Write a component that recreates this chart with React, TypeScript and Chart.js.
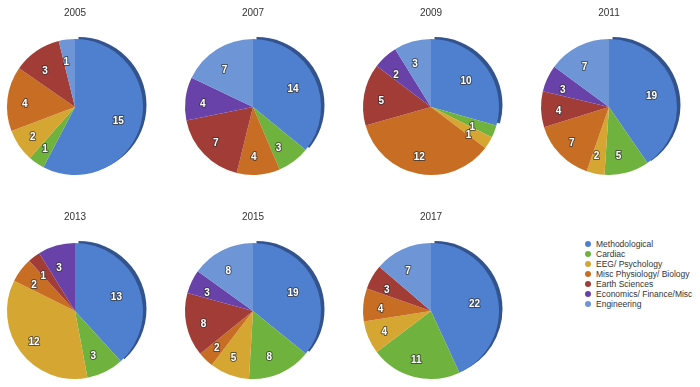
import React, { useEffect, useRef } from "react";
import { Chart, registerables } from "chart.js";

Chart.register(...registerables);

const categories = [
  "Methodological",
  "Cardiac",
  "EEG/ Psychology",
  "Misc Physiology/ Biology",
  "Earth Sciences",
  "Economics/ Finance/Misc",
  "Engineering",
];

const colors = ["#4f7fcf", "#6fb23d", "#d5a632", "#c86d24", "#a23c37", "#6842a8", "#6e95d5"];

const years = ["2005", "2007", "2009", "2011", "2013", "2015", "2017"];

const values2005 = [15, 1, 2, 4, 3, 0, 1];
const values2007 = [14, 3, 0, 4, 7, 4, 7];
const values2009 = [10, 1, 1, 12, 5, 2, 3];
const values2011 = [19, 5, 2, 7, 4, 3, 7];
const values2013 = [13, 3, 12, 2, 1, 3, 0];
const values2015 = [19, 8, 5, 2, 8, 3, 8];
const values2017 = [22, 11, 4, 4, 3, 0, 7];

const seriesByYear = [values2005, values2007, values2009, values2011, values2013, values2015, values2017];

// layout (pie centre x, canvas top) for each small pie canvas
const pieCenters = [
  [75, 0],
  [253, 0],
  [431, 0],
  [609, 0],
  [75, 204],
  [253, 204],
  [431, 204],
];

const shadowPlugin = {
  id: "sliceShadow",
  beforeDatasetsDraw(chart: any) {
    const meta = chart.getDatasetMeta(0);
    const arc = meta.data[0];
    if (!arc) return;
    const p = arc.getProps(["x", "y", "startAngle", "endAngle", "outerRadius"], true);
    const ctx = chart.ctx;
    ctx.save();
    ctx.fillStyle = "#33538d";
    const dx = 3.5;
    const dy = -2;
    ctx.beginPath();
    ctx.moveTo(p.x + dx, p.y + dy);
    ctx.arc(p.x + dx, p.y + dy, p.outerRadius, p.startAngle, p.endAngle);
    ctx.closePath();
    ctx.fill();
    ctx.restore();
  },
};

const valueLabelPlugin = {
  id: "valueLabels",
  afterDatasetsDraw(chart: any) {
    const ds = chart.data.datasets[0];
    const meta = chart.getDatasetMeta(0);
    const ctx = chart.ctx;
    ctx.save();
    ctx.font = "bold 10px 'Liberation Sans', Arial, sans-serif";
    ctx.textAlign = "center";
    ctx.textBaseline = "middle";
    meta.data.forEach((arc: any, i: number) => {
      const v = ds.data[i];
      if (!v) return;
      const p = arc.getProps(["x", "y", "startAngle", "endAngle", "outerRadius"], true);
      const mid = (p.startAngle + p.endAngle) / 2;
      const r = p.outerRadius * 0.7;
      const x = p.x - 3 + Math.cos(mid) * r;
      const y = p.y + 3 + Math.sin(mid) * r;
      ctx.lineWidth = 2;
      ctx.strokeStyle = "rgba(50,50,50,0.7)";
      ctx.lineJoin = "round";
      ctx.strokeText(String(v), x, y);
      ctx.fillStyle = "#ffffff";
      ctx.fillText(String(v), x, y);
    });
    ctx.restore();
  },
};

function Pie({ year, values, left, top }: { year: string; values: number[]; left: number; top: number }) {
  const ref = useRef<HTMLCanvasElement | null>(null);
  useEffect(() => {
    if (!ref.current) return;
    const chart = new Chart(ref.current, {
      type: "pie",
      data: {
        labels: categories,
        datasets: [
          {
            data: values,
            backgroundColor: colors,
            borderWidth: 0,
          },
        ],
      },
      options: {
        responsive: false,
        animation: false,
        events: [],
        layout: { padding: { left: 12, right: 12, top: 0, bottom: 15 } },
        plugins: {
          legend: { display: false },
          tooltip: { enabled: false },
          title: {
            display: true,
            text: year,
            color: "#333333",
            font: { size: 10, family: "'Liberation Sans', Arial, sans-serif", weight: "normal" },
            padding: { top: 7, bottom: 20 },
          },
        },
      },
      plugins: [shadowPlugin, valueLabelPlugin],
    });
    return () => chart.destroy();
  }, [year, values]);
  return (
    <canvas
      ref={ref}
      width={160}
      height={190}
      style={{ position: "absolute", left, top, width: 160, height: 190 }}
    />
  );
}

export default function App() {
  return (
    <div
      style={{
        position: "absolute",
        left: 0,
        top: 0,
        width: 700,
        height: 387,
        background: "#ffffff",
        overflow: "hidden",
      }}
    >
      {years.map((y, i) => (
        <Pie key={y} year={y} values={seriesByYear[i]} left={pieCenters[i][0] - 80} top={pieCenters[i][1]} />
      ))}
      {categories.map((c, i) => (
        <div key={c}>
          <div
            style={{
              position: "absolute",
              left: 585,
              top: 241 + i * 10,
              width: 6,
              height: 6,
              borderRadius: 3,
              background: colors[i],
            }}
          />
          <div
            style={{
              position: "absolute",
              left: 596,
              top: 238.5 + i * 10,
              fontFamily: "'Liberation Sans', Arial, sans-serif",
              fontSize: 8.5,
              lineHeight: "11px",
              color: "#333333",
              whiteSpace: "nowrap",
            }}
          >
            {c}
          </div>
        </div>
      ))}
    </div>
  );
}
